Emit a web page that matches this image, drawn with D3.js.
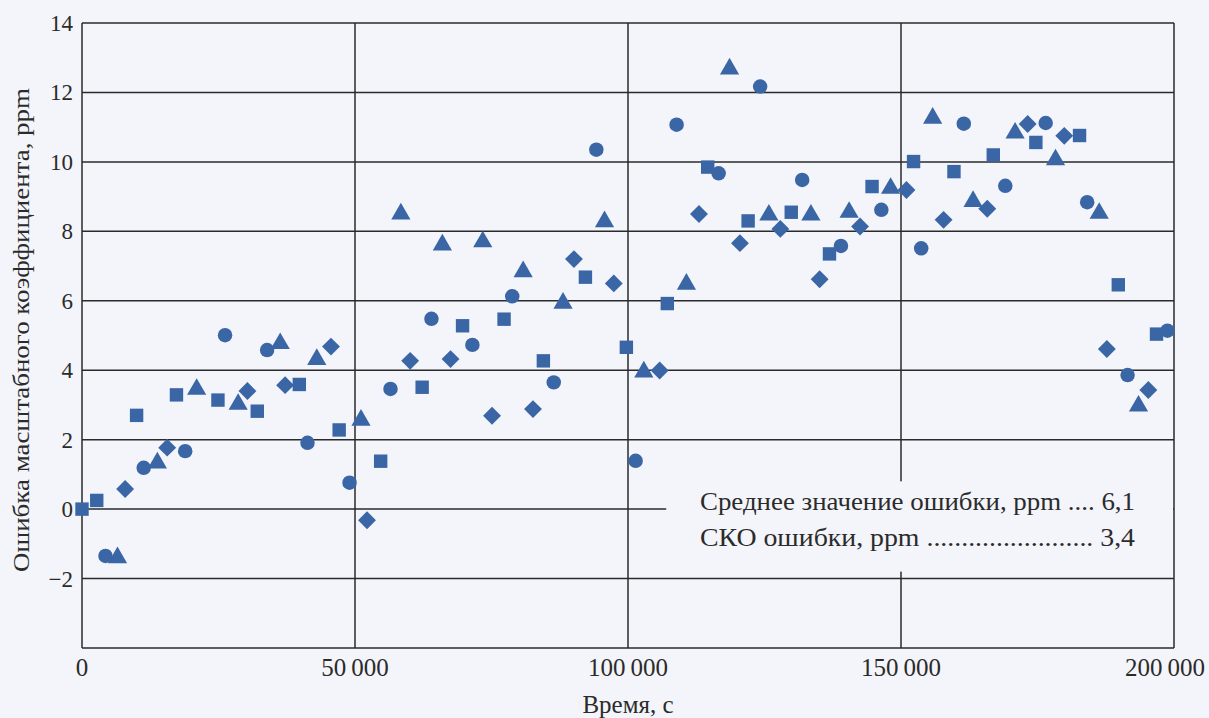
<!DOCTYPE html>
<html>
<head>
<meta charset="utf-8">
<script src="https://cdn.jsdelivr.net/npm/d3@7"></script>
<style>
    body { margin: 0; background: #f3f5fa; }
    text { font-family: "Liberation Serif", "DejaVu Serif", serif; fill: #2b2b2b; }
</style>
</head>
<body>
<div id="chart"></div>
<script>
// Scale factor error vs time, four measurement runs (marker shapes)
var circleData = [[4300, -1.35], [11300, 1.19], [18900, 1.67], [26200, 5.01], [33900, 4.58], [41300, 1.91],
    [49000, 0.76], [56500, 3.46], [64000, 5.48], [71500, 4.73], [78800, 6.13], [86400, 3.65], [94200, 10.35],
    [101400, 1.39], [108900, 11.07], [116600, 9.67], [124200, 12.17], [131900, 9.48], [139000, 7.58],
    [146400, 8.62], [153700, 7.51], [161500, 11.1], [169100, 9.31], [176500, 11.12], [184100, 8.84],
    [191500, 3.86], [198800, 5.14]];
var squareData = [[0, 0], [2700, 0.25], [10000, 2.7], [17300, 3.29], [24900, 3.14], [32100, 2.82], [39800, 3.59],
    [47100, 2.28], [54700, 1.38], [62300, 3.51], [69700, 5.28], [77300, 5.47], [84500, 4.27], [92200, 6.68],
    [99700, 4.66], [107200, 5.92], [114600, 9.85], [122000, 8.3], [129900, 8.55], [136900, 7.35], [144700, 9.29],
    [152300, 10.01], [159700, 9.72], [166900, 10.2], [174700, 10.56], [182700, 10.76], [189800, 6.46],
    [196800, 5.04]];
var triangleData = [[6500, -1.4], [13800, 1.33], [21000, 3.45], [28600, 3.02], [36300, 4.77], [43000, 4.31],
    [51100, 2.56], [58400, 8.5], [66000, 7.61], [73400, 7.7], [80800, 6.84], [88100, 5.93], [95700, 8.28],
    [102900, 3.95], [110700, 6.48], [118600, 12.68], [125800, 8.47], [133500, 8.47], [140500, 8.55],
    [148100, 9.24], [155800, 11.26], [163200, 8.86], [170900, 10.83], [178300, 10.06], [186300, 8.52],
    [193500, 2.97]];
var diamondData = [[7900, 0.58], [15600, 1.77], [30300, 3.4], [37200, 3.57], [45600, 4.68], [52200, -0.32],
    [60100, 4.27], [67500, 4.32], [75100, 2.69], [82600, 2.88], [90100, 7.2], [97400, 6.5], [105800, 3.99],
    [113000, 8.5], [120500, 7.66], [127900, 8.07], [135100, 6.62], [142500, 8.14], [151000, 9.19],
    [157800, 8.33], [165800, 8.65], [173200, 11.09], [179900, 10.75], [187700, 4.61], [195300, 3.43]];

var xTicks = [0, 50000, 100000, 150000, 200000];
var yTicks = [-4, -2, 0, 2, 4, 6, 8, 10, 12, 14];
var legendLines = ["Среднее значение ошибки, ppm .... 6,1", "СКО ошибки, ppm ........................ 3,4"];

var width = 1209, height = 718;
var margin = { top: 23, right: 35, bottom: 70, left: 82 };
var markerColor = "#3a66a6";

var svg = d3.select("#chart").append("svg")
    .attr("width", width)
    .attr("height", height);

var x = d3.scaleLinear().domain([0, 200000]).range([margin.left, width - margin.right]);
var y = d3.scaleLinear().domain([-4, 14]).range([height - margin.bottom, margin.top]);

var ru = d3.formatLocale({ decimal: ",", thousands: "\u2009", grouping: [3], currency: ["", ""], minus: "\u2212" });
var fmtX = ru.format(",d");

// Grid
svg.append("g").selectAll("line.h")
    .data(yTicks)
    .enter()
    .append("line")
    .attr("x1", x(0)).attr("x2", x(200000))
    .attr("y1", function (d) { return y(d); })
    .attr("y2", function (d) { return y(d); })
    .attr("stroke", "#2a2a2a")
    .attr("stroke-width", 1.5);
svg.append("g").selectAll("line.v")
    .data(xTicks)
    .enter()
    .append("line")
    .attr("y1", y(14)).attr("y2", y(-4))
    .attr("x1", function (d) { return x(d); })
    .attr("x2", function (d) { return x(d); })
    .attr("stroke", "#2a2a2a")
    .attr("stroke-width", 1.5);

// Tick labels
svg.append("g").selectAll("text")
    .data(yTicks.filter(function (d) { return d > -4; }))
    .enter()
    .append("text")
    .text(function (d) { return ru.format("d")(d); })
    .attr("x", x(0) - 9)
    .attr("y", function (d) { return y(d) + 8; })
    .style("text-anchor", "end")
    .style("font-size", "23px");
svg.append("g").selectAll("text")
    .data(xTicks)
    .enter()
    .append("text")
    .text(fmtX)
    .attr("x", function (d, i) { return i == xTicks.length - 1 ? width - 4 : x(d); })
    .attr("y", y(-4) + 28)
    .style("text-anchor", function (d, i) { return i == xTicks.length - 1 ? "end" : "middle"; })
    .style("font-size", "25px");

// Axis titles
svg.append("text")
    .text("Время, с")
    .attr("x", x(100000))
    .attr("y", 713)
    .style("text-anchor", "middle")
    .style("font-size", "25px");
svg.append("text")
    .text("Ошибка масштабного коэффициента, ppm")
    .attr("transform", "translate(29,330) rotate(-90)")
    .attr("textLength", 484)
    .attr("lengthAdjust", "spacingAndGlyphs")
    .style("text-anchor", "middle")
    .style("font-size", "24px");

// Legend box (covers the grid)
svg.append("rect")
    .attr("x", x(107000)).attr("y", y(0.8))
    .attr("width", x(200000) - x(107000) - 1)
    .attr("height", y(-1.8) - y(0.8))
    .attr("fill", "#f3f5fa");
svg.append("g").selectAll("text")
    .data(legendLines)
    .enter()
    .append("text")
    .text(function (d) { return d; })
    .attr("x", 700)
    .attr("y", function (d, i) { return 510 + i * 36; })
    .attr("textLength", 435)
    .attr("lengthAdjust", "spacingAndGlyphs")
    .style("font-size", "25px");

// Markers
var sym = {
    circle: d3.symbol().type(d3.symbolCircle).size(165),
    square: d3.symbol().type(d3.symbolSquare).size(180),
    triangle: d3.symbol().type(d3.symbolTriangle).size(160),
    diamond: d3.symbol().type(d3.symbolSquare).size(160)
};
var seriesList = [
    { key: "square", data: squareData, rot: 0 },
    { key: "triangle", data: triangleData, rot: 0 },
    { key: "diamond", data: diamondData, rot: 45 },
    { key: "circle", data: circleData, rot: 0 }
];
seriesList.forEach(function (s) {
    svg.append("g").selectAll("path")
        .data(s.data)
        .enter()
        .append("path")
        .attr("d", sym[s.key]())
        .attr("transform", function (d) {
            return "translate(" + x(d[0]) + "," + y(d[1]) + ") rotate(" + s.rot + ")";
        })
        .attr("fill", markerColor);
});
</script>
</body>
</html>
